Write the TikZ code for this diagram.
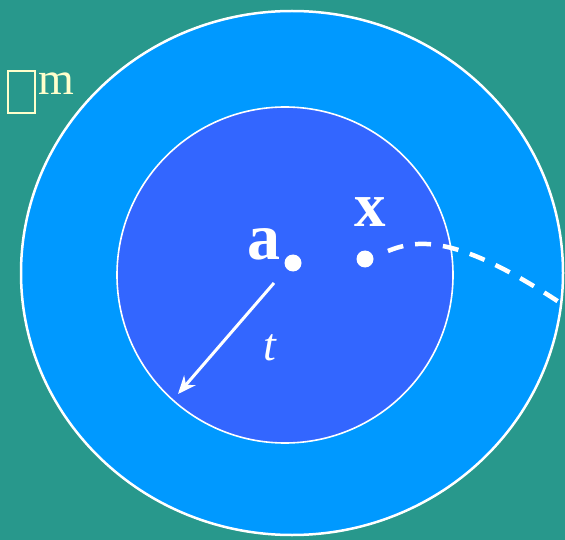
\documentclass[tikz,border=0pt]{standalone}
\usepackage{fontspec}
\setmainfont{Liberation Serif}
\usepackage{xcolor}
\usetikzlibrary{calc,positioning,arrows.meta}
\definecolor{bgteal}{RGB}{40,152,140}
\definecolor{ballout}{RGB}{0,153,255}
\definecolor{ballin}{RGB}{51,102,255}
\definecolor{paleyel}{RGB}{255,255,204}
\tikzset{Dot/.style={fill=white,draw=none,circle,minimum size=17pt,inner sep=0pt},
         PtLabel/.style={text=white,font=\fontsize{#1}{#1}\selectfont\bfseries,inner sep=0pt,anchor=base}}

\begin{document}
\begin{tikzpicture}[x=1pt,y=-1pt]
            \fill[bgteal] (0,0) rectangle (565,540);
            \useasboundingbox (0,0) rectangle (565,540);
            \filldraw[fill=ballout,draw=white,line width=2.5pt] (292,273) ellipse[x radius=271,y radius=262];
            \filldraw[fill=ballin,draw=white,line width=1.6pt] (285,275) circle[radius=168];
            \node[Dot] (a) at (293,263) {};
            \node[Dot] (x) at (365,259) {};
            \node[PtLabel=66] (alab) at (264,260) {a};
            \node[PtLabel=63] (xlab) at (370,227) {x};
            \node[text=white,font=\fontsize{46}{46}\selectfont\itshape,inner sep=0pt,anchor=base] (tlab) at (270,360) {t};
            \coordinate (tail) at (274,283);
            \coordinate (head) at (178,394);
            \coordinate (xout) at (388,251);
            \coordinate (far) at (565,306);
            \draw[white,line width=3pt,-{Stealth[length=18pt,width=15pt]}] (tail) -- (head);
            \draw[white,line width=4.5pt,dash pattern=on 16pt off 12pt] (xout) .. controls (420,238) and (460,236) .. (far);
            \draw[paleyel,line width=1.4pt] (8,71) rectangle (35,113);
            \node[text=paleyel,font=\fontsize{46}{46}\selectfont,inner sep=0pt,anchor=base west] (mlab) at (38,95) {m};
        \end{tikzpicture}
\end{document}
